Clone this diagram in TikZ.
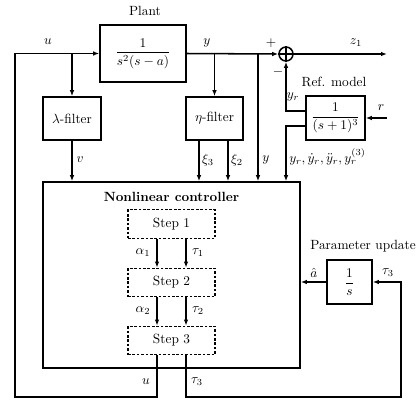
\documentclass[tikz,border=0pt]{standalone}
\usetikzlibrary{arrows.meta}
\begin{document}
\begin{tikzpicture}[x=0.75pt,y=-0.75pt,
  box/.style={draw, line width=1.15pt, inner sep=1pt, align=center},
  stepbox/.style={draw, dash pattern=on 2pt off 1.3pt, line width=1pt, minimum width=65.25pt, minimum height=21.4pt, inner sep=1pt},
  arr/.style={line width=1.15pt, -{Latex[length=4.5pt,width=3.4pt]}},
  lbl/.style={inner sep=0pt}]
\useasboundingbox (0,0) rectangle (420,401);
% blocks
\node[box, minimum width=64.5pt, minimum height=42.75pt] (plant) at (143,53.5) {$\displaystyle\frac{1}{s^2(s-a)}$};
\node[box, minimum width=43.5pt, minimum height=32.25pt] (lam) at (72,118.5) {$\lambda$-filter};
\node[box, minimum width=42.75pt, minimum height=32.25pt] (eta) at (214.5,118.5) {$\eta$-filter};
\node[box, minimum width=44.25pt, minimum height=33pt] (ref) at (335.5,118) {$\displaystyle\frac{1}{(s+1)^3}$};
\node[box, minimum width=192.75pt, minimum height=139.5pt] (ctrl) at (171.5,275) {};
\node[font=\bfseries, lbl] (ctrlt) at (171.5,197) {Nonlinear controller};
\node[stepbox] (s1) at (171.5,224) {Step 1};
\node[stepbox] (s2) at (171.5,282.5) {Step 2};
\node[stepbox] (s3) at (171.5,340.5) {Step 3};
\node[box, minimum width=33.75pt, minimum height=33pt] (int) at (349.5,282) {$\displaystyle\frac{1}{s}$};
\node[circle, draw, line width=1.15pt, minimum size=10.5pt, inner sep=0pt] (sum) at (286,54) {};
\draw[line width=1pt] (sum.north) -- (sum.south) (sum.west) -- (sum.east);
% helper coordinates
\coordinate (cA) at (157,0);
\coordinate (cT) at (186,0);
\coordinate (bot) at (0,397);
\coordinate (left) at (15,0);
\coordinate (right) at (401,0);
\coordinate (cy) at (258,0);
\coordinate (cx3) at (199,0);
\coordinate (cx2) at (228,0);
\coordinate (ryu) at (0,111);
\coordinate (ryd) at (0,126);
\coordinate (zend) at (387,54);
\coordinate (rst) at (387,118);
% connectors
\draw[arr] (plant.east) -- (sum.west);
\draw[arr] (sum.east) -- (zend);
\draw[arr] (lam.north |- plant.west) -- (lam.north);
\draw[arr] (eta.north |- plant.east) -- (eta.north);
\draw[arr] (cy |- plant.east) -- (cy |- ctrl.north);
\draw[arr] (lam.south) -- (lam.south |- ctrl.north);
\draw[arr] (cx3 |- eta.south) -- (cx3 |- ctrl.north);
\draw[arr] (cx2 |- eta.south) -- (cx2 |- ctrl.north);
\draw[arr] (ref.west |- ryu) -- (sum.south |- ryu) -- (sum.south);
\draw[arr] (ref.west |- ryd) -- (sum.south |- ryd) -- (sum.south |- ctrl.north);
\draw[arr] (rst) -- (ref.east);
\draw[arr] (s1.south -| cA) -- (s2.north -| cA);
\draw[arr] (s1.south -| cT) -- (s2.north -| cT);
\draw[arr] (s2.south -| cA) -- (s3.north -| cA);
\draw[arr] (s2.south -| cT) -- (s3.north -| cT);
\draw[arr] (s3.south -| cA) -- (cA |- bot) -- (left |- bot) -- (left |- plant.west) -- (plant.west);
\draw[arr] (s3.south -| cT) -- (cT |- bot) -- (right |- bot) -- (right |- int.east) -- (int.east);
\draw[arr] (int.west) -- (int.west -| ctrl.east);
% labels
\node[lbl] (tplant) at (145,11) {Plant};
\node[lbl] (tu) at (48,42) {$u$};
\node[lbl] (ty) at (207,43) {$y$};
\node[lbl] (tplus) at (271,43) {$+$};
\node[lbl] (tminus) at (278,72) {$-$};
\node[lbl] (tz) at (356,43) {$z_1$};
\node[lbl] (tref) at (334,82) {Ref. model};
\node[lbl] (tyr) at (293,97) {$y_r$};
\node[lbl] (tr) at (381,108) {$r$};
\node[lbl, anchor=west] (tyrs) at (289,157) {$y_r,\dot{y}_r,\ddot{y}_r,y_r^{(3)}$};
\node[lbl] (ty2) at (266,160) {$y$};
\node[lbl] (tv) at (80,160) {$v$};
\node[lbl] (tx3) at (208,160) {$\xi_3$};
\node[lbl] (tx2) at (237,160) {$\xi_2$};
\node[lbl] (ta1) at (143,253) {$\alpha_1$};
\node[lbl] (tt1) at (198,253) {$\tau_1$};
\node[lbl] (ta2) at (143,311) {$\alpha_2$};
\node[lbl] (tt2) at (198,311) {$\tau_2$};
\node[lbl] (tu2) at (146,382) {$u$};
\node[lbl] (tt3) at (197,382) {$\tau_3$};
\node[lbl] (tpar) at (363,246) {Parameter update};
\node[lbl] (tah) at (314,273) {$\hat{a}$};
\node[lbl] (tt3b) at (388,273) {$\tau_3$};
\end{tikzpicture}
\end{document}
